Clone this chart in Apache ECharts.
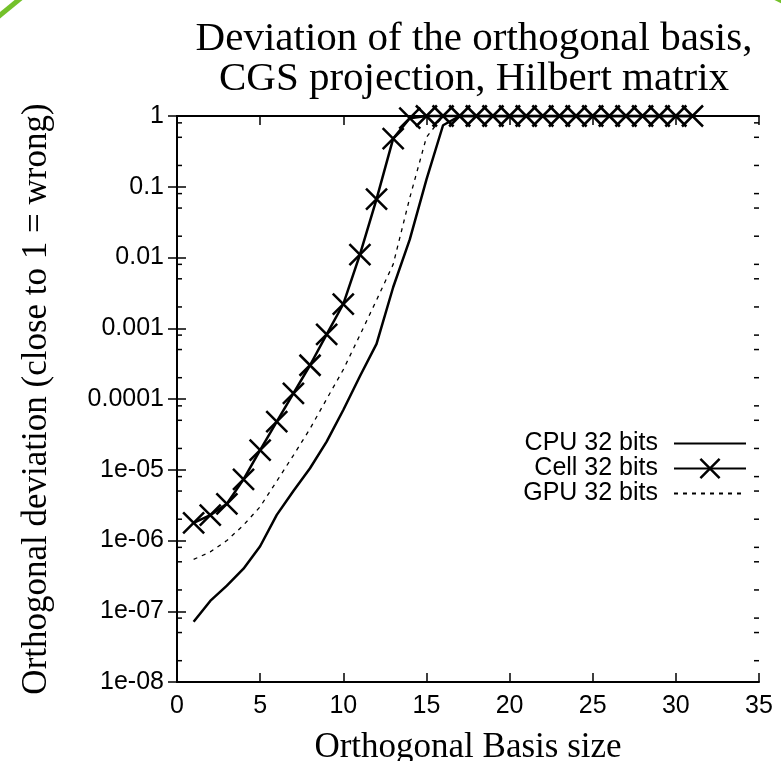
<!DOCTYPE html>
<html>
<head>
<meta charset="utf-8">
<script src="https://cdn.jsdelivr.net/npm/echarts@6/dist/echarts.min.js"></script>
<style>
  html, body { margin: 0; padding: 0; background: #fff; }
  #chart { width: 781px; height: 761px; }
</style>
</head>
<body>
<div id="chart"></div>
<script>
// Basis sizes on the x axis
const basisSize = [1, 2, 3, 4, 5, 6, 7, 8, 9, 10, 11, 12, 13, 14, 15, 16,
  17, 18, 19, 20, 21, 22, 23, 24, 25, 26, 27, 28, 29, 30, 31];

// Orthogonal deviation per implementation
const cpu32 = [7.1e-8, 1.4e-7, 2.3e-7, 4.0e-7, 8.3e-7, 2.3e-6, 5.0e-6, 1.05e-5,
  2.5e-5, 7.0e-5, 2.1e-4, 6.0e-4, 3.8e-3, 0.018, 0.126, 0.74,
  1, 1, 1, 1, 1, 1, 1, 1, 1, 1, 1, 1, 1, 1, 1];
const cell32 = [1.78e-6, 2.28e-6, 3.3e-6, 7.3e-6, 1.9e-5, 4.8e-5, 1.2e-4, 3.0e-4,
  8.2e-4, 2.2e-3, 0.011, 0.067, 0.48, 0.93, 1,
  1, 1, 1, 1, 1, 1, 1, 1, 1, 1, 1, 1, 1, 1, 1, 1];
const gpu32 = [5.4e-7, 6.9e-7, 1.0e-6, 1.65e-6, 3.0e-6, 6.9e-6, 1.6e-5, 3.8e-5,
  1.0e-4, 2.6e-4, 8.0e-4, 2.5e-3, 8.0e-3, 0.07, 0.5, 1,
  1, 1, 1, 1, 1, 1, 1, 1, 1, 1, 1, 1, 1, 1, 1];

// Tick labels of the log axis, from 1e-8 up to 1
const yTickLabels = ['1e-08', '1e-07', '1e-06', '1e-05', '0.0001', '0.001', '0.01', '0.1', '1'];
const xTicks = [0, 5, 10, 15, 20, 25, 30, 35];

// Minor ticks of the log axis: 2, 5 and 8 within every decade
const minorFactors = [2, 5, 8];
const decades = [1e-8, 1e-7, 1e-6, 1e-5, 1e-4, 1e-3, 1e-2, 1e-1];

const seriesNames = ['CPU 32 bits', 'Cell 32 bits', 'GPU 32 bits'];

const SANS = 'Liberation Sans';
const SERIF = 'Liberation Serif';
const crossPath = 'path://M0,0L10,10M10,0L0,10';

function zip(xs, ys) { return xs.map((x, i) => [x, ys[i]]); }

const minorTickData = [];
decades.forEach(d => minorFactors.forEach(f => minorTickData.push([0, f * d])));

const chart = echarts.init(document.getElementById('chart'), null, { renderer: 'canvas' });

const tickStyle = { color: '#000', width: 1.5 };
const axisLine = { show: true, lineStyle: { color: '#000', width: 2 } };

chart.setOption({
  animation: false,
  backgroundColor: '#fff',
  title: {
    text: 'Deviation of the orthogonal basis,\nCGS projection, Hilbert matrix',
    left: 469,
    top: 14,
    textAlign: 'center',
    textStyle: { fontFamily: SERIF, fontSize: 41, fontWeight: 'normal', color: '#000', lineHeight: 40 }
  },
  grid: { left: 177, right: 22, top: 116, bottom: 79, containLabel: false, outerBoundsMode: 'none' },
  legend: {
    data: [
      { name: seriesNames[0], itemStyle: { opacity: 0 } },
      { name: seriesNames[1], itemStyle: { color: 'none', borderColor: '#000', borderWidth: 2.5 } },
      { name: seriesNames[2], itemStyle: { opacity: 0 } }
    ],
    orient: 'vertical',
    align: 'right',
    right: 29,
    top: 426,
    itemWidth: 72,
    itemHeight: 24,
    itemGap: 0,
    selectedMode: false,
    textStyle: { fontFamily: SANS, fontSize: 25, color: '#000', padding: [0, 11, 0, 0] }
  },
  xAxis: [{
    type: 'value',
    min: 0, max: 35, interval: 5,
    name: 'Orthogonal Basis size',
    nameLocation: 'middle',
    nameGap: 48,
    nameTextStyle: { fontFamily: SERIF, fontSize: 35, color: '#000' },
    axisLine: axisLine,
    axisTick: { show: true, inside: true, length: 9, lineStyle: tickStyle },
    axisLabel: { fontFamily: SANS, fontSize: 25, color: '#000', margin: 12,
      formatter: v => String(xTicks[xTicks.indexOf(v)]) },
    splitLine: { show: false }
  }, {
    type: 'value',
    position: 'top',
    min: 0, max: 35, interval: 5,
    axisLine: axisLine,
    axisTick: { show: true, inside: true, length: 9, lineStyle: tickStyle },
    axisLabel: { show: false },
    splitLine: { show: false }
  }],
  yAxis: [{
    type: 'log',
    logBase: 10,
    min: 1e-8, max: 1,
    interval: 1,
    name: 'Orthogonal deviation (close to 1 = wrong)',
    nameLocation: 'middle',
    nameGap: 123,
    nameTextStyle: { fontFamily: SERIF, fontSize: 35, color: '#000' },
    axisLine: axisLine,
    axisTick: { show: true, inside: true, length: 9, lineStyle: tickStyle },
    axisLabel: { fontFamily: SANS, fontSize: 25, color: '#000', margin: 13,
      formatter: v => yTickLabels[Math.round(Math.log10(v)) + 8] },
    minorTick: { show: false },
    splitLine: { show: false }
  }, {
    type: 'log',
    logBase: 10,
    position: 'right',
    min: 1e-8, max: 1,
    interval: 1,
    axisLine: axisLine,
    axisTick: { show: true, inside: true, length: 9, lineStyle: tickStyle },
    axisLabel: { show: false },
    splitLine: { show: false }
  }],
  graphic: [
    { type: 'line', shape: { x1: -2, y1: 17, x2: 21, y2: -2 },
      style: { stroke: '#74c12a', lineWidth: 5 }, silent: true },
    { type: 'line', shape: { x1: 775, y1: -2, x2: 783, y2: 2 },
      style: { stroke: '#74c12a', lineWidth: 4 }, silent: true }
  ],
  series: [
    {
      name: seriesNames[0],
      type: 'line',
      data: zip(basisSize, cpu32),
      symbol: 'none',
      lineStyle: { color: '#000', width: 2.5 },
      itemStyle: { color: '#000' },
      z: 3
    },
    {
      name: seriesNames[1],
      type: 'line',
      data: zip(basisSize, cell32),
      symbol: crossPath,
      symbolSize: 21,
      showAllSymbol: true,
      lineStyle: { color: '#000', width: 2.5 },
      itemStyle: { color: 'none', borderColor: '#000', borderWidth: 2.5 },
      clip: false,
      z: 4
    },
    {
      name: seriesNames[2],
      type: 'line',
      data: zip(basisSize, gpu32),
      symbol: 'none',
      lineStyle: { color: '#000', width: 1.3, type: [4, 5] },
      itemStyle: { color: '#000' },
      z: 3
    },
    {
      name: 'minor ticks',
      type: 'custom',
      data: minorTickData,
      encode: { x: 0, y: 1 },
      silent: true,
      renderItem: function (params, api) {
        const y = api.coord([0, api.value(1)])[1];
        const cs = params.coordSys;
        const s = { stroke: '#000', lineWidth: 1.5 };
        return {
          type: 'group',
          children: [
            { type: 'line', shape: { x1: cs.x, y1: y, x2: cs.x + 5, y2: y }, style: s },
            { type: 'line', shape: { x1: cs.x + cs.width, y1: y, x2: cs.x + cs.width - 5, y2: y }, style: s }
          ]
        };
      },
      z: 5
    }
  ]
});
</script>
</body>
</html>
